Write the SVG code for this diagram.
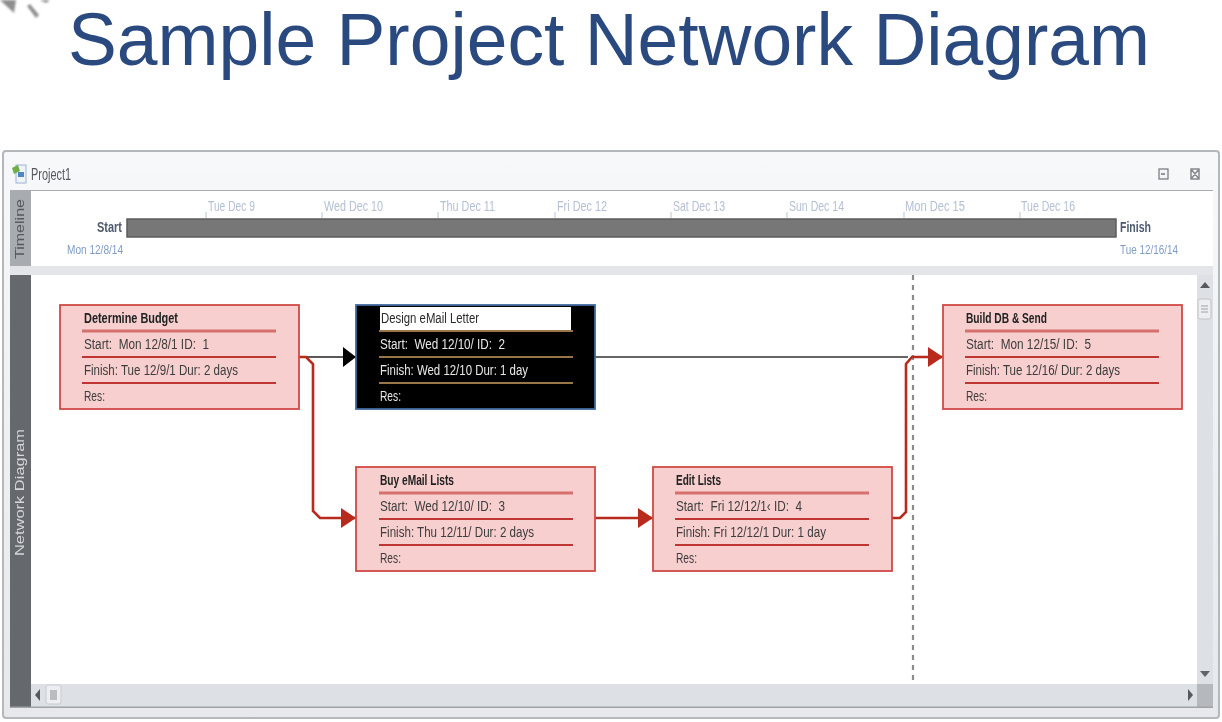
<svg xmlns="http://www.w3.org/2000/svg" width="1222" height="722" viewBox="0 0 1222 722">
<defs>
<filter id="soft" x="-2%" y="-2%" width="104%" height="104%"><feGaussianBlur stdDeviation="0.7"/></filter>
<filter id="softer" x="-30%" y="-30%" width="160%" height="160%"><feGaussianBlur stdDeviation="1.1"/></filter>
<linearGradient id="bar" x1="0" y1="0" x2="0" y2="1"><stop offset="0" stop-color="#f7f8f9"/><stop offset="1" stop-color="#e6e8eb"/></linearGradient>
<marker id="ar" markerUnits="userSpaceOnUse" markerWidth="16" markerHeight="20" refX="15" refY="10" orient="auto"><path d="M0 0L15 10L0 20Z" fill="#b72a1e"/></marker>
<marker id="ak" markerUnits="userSpaceOnUse" markerWidth="14" markerHeight="20" refX="13" refY="10" orient="auto"><path d="M0 0L13 10L0 20Z" fill="#000"/></marker>
</defs>
<style>
text{font-family:"Liberation Sans",Arial,sans-serif;white-space:pre}
.box{fill:#f8cfcf;stroke:#cf4a46;stroke-width:1.800}
.rule{stroke:#bf3631;stroke-width:2.200}
.rule1{stroke:#d4716d;stroke-width:3}
.t{font-size:15.500px;fill:#3c3c3c}
.b{font-size:15.500px;font-weight:bold;fill:#222}
.w{font-size:15.500px;fill:#e8e8e8}
.drule{stroke:#9a7546;stroke-width:2.200}
.date{font-size:15px;fill:#b4c0d4}
.tick{stroke:#b9c4d6;stroke-width:1}
.lnk{fill:none;stroke-width:2.600;stroke:#b72a1e}
</style>
<rect width="1222" height="722" fill="#fff"/>
<text x="68" y="65" font-size="74" fill="#2a4a7f" textLength="1082" lengthAdjust="spacingAndGlyphs">Sample Project Network Diagram</text>
<g filter="url(#softer)" fill="#8e8e8e"><path d="M0 0H16L14 13Z"/><path d="M27 6L30 4L39 15L36 18Z"/><path d="M40 0H50L46 3Z"/></g>
<g filter="url(#soft)">
<g id="window">
<rect x="3" y="151" width="1216" height="567" rx="3" fill="url(#bar)" stroke="#b4b7bb" stroke-width="2"/>
<rect x="10" y="190" width="1203" height="1.500" fill="#a9acb0"/>
<rect x="10" y="191" width="21" height="76" fill="#a8abaf"/>
<rect x="31" y="191" width="1182" height="75" fill="#fff"/>
<rect x="10" y="266" width="1203" height="9" fill="#e3e5e8"/>
<rect x="10" y="275" width="21" height="432" fill="#65686c"/>
<rect x="31" y="275" width="1166" height="409" fill="#fff"/>
<rect x="1197" y="275" width="16" height="409" fill="#dde0e5"/>
<rect x="31" y="684" width="1166" height="23" fill="#dde0e5"/>
<rect x="1197" y="684" width="16" height="23" fill="#b5b8bd"/>
<rect x="10" y="706.500" width="1203" height="1.500" fill="#a0a3a7"/>
<rect x="16" y="165" width="10" height="18" fill="#eef3fa" stroke="#9db4d0"/>
<path d="M12 168l6-3 2 6-6 3z" fill="#6fae4a"/>
<rect x="18" y="172" width="6" height="5" fill="#4f86c0"/>
<text x="31" y="180" font-size="16" fill="#55585c" textLength="40" lengthAdjust="spacingAndGlyphs">Project1</text>
<rect x="1159" y="169" width="9" height="10" fill="#f4f5f6" stroke="#73767a" stroke-width="1.200"/><path d="M1161 174h4" stroke="#55585c" stroke-width="1.200"/>
<path d="M1191 169h8v10h-8zM1191 169l8 10M1199 169l-8 10" fill="none" stroke="#85888c" stroke-width="1.500"/>
<text transform="translate(24 259) rotate(-90)" font-size="13" fill="#55585c" textLength="60" lengthAdjust="spacingAndGlyphs">Timeline</text>
<text transform="translate(24 556) rotate(-90)" font-size="12" fill="#d4d6d8" textLength="127" lengthAdjust="spacingAndGlyphs">Network Diagram</text>
<path d="M1205 282l5 6h-10z" fill="#55585c"/>
<rect x="1198" y="299" width="13" height="20" rx="2" fill="#eceef1" stroke="#c0c3c8"/><path d="M1201 306h7M1201 309h7M1201 312h7" stroke="#9ea1a6"/>
<path d="M1205 677l-5-6h10z" fill="#606367"/>
<path d="M35 695l5-6v12z" fill="#55585c"/>
<rect x="46" y="685" width="15" height="19" rx="2" fill="#eceef1" stroke="#c8cbd0"/><rect x="50" y="690" width="7" height="10" fill="#b9bcc1"/>
<path d="M1193 695l-5-6v12z" fill="#55585c"/>
</g>
<g id="timeline">
<rect x="127" y="219" width="989" height="18" fill="#777" stroke="#5c5c5c" stroke-width="1.500"/>
<text x="97" y="232" font-size="15" font-weight="bold" fill="#4c5a6c" textLength="25" lengthAdjust="spacingAndGlyphs">Start</text>
<text x="67" y="254" font-size="13" fill="#7f9cc5" textLength="56" lengthAdjust="spacingAndGlyphs">Mon 12/8/14</text>
<text x="1120" y="232" font-size="15" font-weight="bold" fill="#4c5a6c" textLength="31" lengthAdjust="spacingAndGlyphs">Finish</text>
<text x="1120" y="254" font-size="13" fill="#7f9cc5" textLength="58" lengthAdjust="spacingAndGlyphs">Tue 12/16/14</text>
<path class="tick" d="M206 212V218M322 212V218M438 212V218M555 212V218M671 212V218M787 212V218M904 212V218M1020 212V218"/>
<text class="date" x="208" y="211" textLength="47" lengthAdjust="spacingAndGlyphs">Tue Dec 9</text>
<text class="date" x="324" y="211" textLength="59" lengthAdjust="spacingAndGlyphs">Wed Dec 10</text>
<text class="date" x="440" y="211" textLength="55" lengthAdjust="spacingAndGlyphs">Thu Dec 11</text>
<text class="date" x="557" y="211" textLength="50" lengthAdjust="spacingAndGlyphs">Fri Dec 12</text>
<text class="date" x="673" y="211" textLength="52" lengthAdjust="spacingAndGlyphs">Sat Dec 13</text>
<text class="date" x="789" y="211" textLength="55" lengthAdjust="spacingAndGlyphs">Sun Dec 14</text>
<text class="date" x="905" y="211" textLength="60" lengthAdjust="spacingAndGlyphs">Mon Dec 15</text>
<text class="date" x="1021" y="211" textLength="54" lengthAdjust="spacingAndGlyphs">Tue Dec 16</text>
</g>
<line id="status-line" x1="913" y1="275" x2="913" y2="684" stroke="#8c8c8c" stroke-width="2.200" stroke-dasharray="5 5"/>
<g id="connectors">
<path d="M595 357H908" fill="none" stroke="#333" stroke-width="1.500"/>
<path d="M305 357H356" fill="none" stroke="#222" stroke-width="1.500" marker-end="url(#ak)"/>
<path class="lnk" d="M299 357H306L313 364V511L320 518H356" marker-end="url(#ar)"/>
<path class="lnk" d="M595 518H653" marker-end="url(#ar)"/>
<path class="lnk" d="M892 518H900L906 512V364L912 357H943" marker-end="url(#ar)"/>
</g>
<g id="node-1">
<rect class="box" x="60" y="305" width="239" height="104"/>
<path class="rule1" d="M82 331H276"/><path class="rule" d="M82 357H276M82 383H276"/>
<text class="b" x="84" y="323" textLength="94" lengthAdjust="spacingAndGlyphs">Determine Budget</text>
<text class="t" x="84" y="349" textLength="125" lengthAdjust="spacingAndGlyphs">Start:  Mon 12/8/1 ID:  1</text>
<text class="t" x="84" y="375" textLength="154" lengthAdjust="spacingAndGlyphs">Finish: Tue 12/9/1 Dur: 2 days</text>
<text class="t" x="84" y="401" textLength="21" lengthAdjust="spacingAndGlyphs">Res:</text>
</g>
<g id="node-2">
<rect x="356" y="305" width="239" height="104" fill="#000" stroke="#3f6a9e" stroke-width="1.800"/>
<rect x="380" y="307" width="191" height="23" fill="#fff"/>
<path class="drule" d="M379 331H573M379 357H573M379 383H573"/>
<text x="381" y="323" font-size="15.500" fill="#2a2a2a" textLength="98" lengthAdjust="spacingAndGlyphs">Design eMail Letter</text>
<text class="w" x="380" y="349" textLength="125" lengthAdjust="spacingAndGlyphs">Start:  Wed 12/10/ ID:  2</text>
<text class="w" x="380" y="375" textLength="148" lengthAdjust="spacingAndGlyphs">Finish: Wed 12/10 Dur: 1 day</text>
<text class="w" x="380" y="401" textLength="21" lengthAdjust="spacingAndGlyphs">Res:</text>
</g>
<g id="node-3">
<rect class="box" x="356" y="467" width="239" height="104"/>
<path class="rule1" d="M379 493H573"/><path class="rule" d="M379 519H573M379 545H573"/>
<text class="b" x="380" y="485" textLength="74" lengthAdjust="spacingAndGlyphs">Buy eMail Lists</text>
<text class="t" x="380" y="511" textLength="125" lengthAdjust="spacingAndGlyphs">Start:  Wed 12/10/ ID:  3</text>
<text class="t" x="380" y="537" textLength="154" lengthAdjust="spacingAndGlyphs">Finish: Thu 12/11/ Dur: 2 days</text>
<text class="t" x="380" y="563" textLength="21" lengthAdjust="spacingAndGlyphs">Res:</text>
</g>
<g id="node-4">
<rect class="box" x="653" y="467" width="239" height="104"/>
<path class="rule1" d="M675 493H869"/><path class="rule" d="M675 519H869M675 545H869"/>
<text class="b" x="676" y="485" textLength="45" lengthAdjust="spacingAndGlyphs">Edit Lists</text>
<text class="t" x="676" y="511" textLength="126" lengthAdjust="spacingAndGlyphs">Start:  Fri 12/12/1‹ ID:  4</text>
<text class="t" x="676" y="537" textLength="150" lengthAdjust="spacingAndGlyphs">Finish: Fri 12/12/1 Dur: 1 day</text>
<text class="t" x="676" y="563" textLength="21" lengthAdjust="spacingAndGlyphs">Res:</text>
</g>
<g id="node-5">
<rect class="box" x="943" y="305" width="239" height="104"/>
<path class="rule1" d="M965 331H1159"/><path class="rule" d="M965 357H1159M965 383H1159"/>
<text class="b" x="966" y="323" textLength="81" lengthAdjust="spacingAndGlyphs">Build DB &amp; Send</text>
<text class="t" x="966" y="349" textLength="125" lengthAdjust="spacingAndGlyphs">Start:  Mon 12/15/ ID:  5</text>
<text class="t" x="966" y="375" textLength="154" lengthAdjust="spacingAndGlyphs">Finish: Tue 12/16/ Dur: 2 days</text>
<text class="t" x="966" y="401" textLength="21" lengthAdjust="spacingAndGlyphs">Res:</text>
</g>
</g>
</svg>
